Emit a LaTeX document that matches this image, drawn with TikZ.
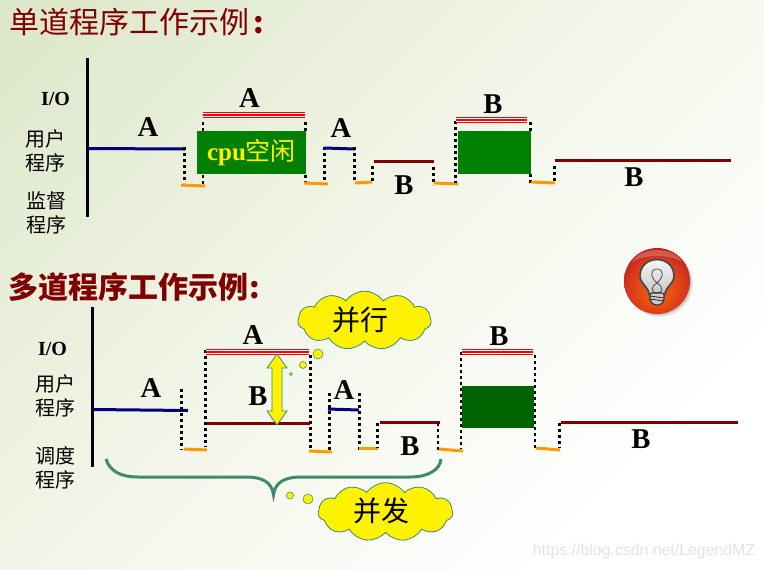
\documentclass[tikz,border=0pt]{standalone}
\usepackage{fontspec}
\setmainfont{Liberation Serif}
\newfontfamily\cjk{Noto Sans CJK SC}
\newfontfamily\wmfont{Liberation Sans}
\usetikzlibrary{shapes.symbols}
\definecolor{navyl}{HTML}{000080}
\definecolor{maroonl}{HTML}{800000}
\definecolor{orangel}{HTML}{FF9900}
\definecolor{greenb}{HTML}{008000}
\definecolor{greend}{HTML}{006400}
\definecolor{tealo}{HTML}{3F8A6C}
\definecolor{bgtop}{HTML}{DCE6C8}
\definecolor{bgmid}{HTML}{F4F7EC}
\definecolor{ballin}{HTML}{EA5212}
\definecolor{ballmid}{HTML}{D8381C}
\definecolor{ballout}{HTML}{B81C1C}
\pgfdeclareradialshading{ballsh}{\pgfpoint{0bp}{-9bp}}{color(0bp)=(ballin); color(10bp)=(ballin); color(22bp)=(ballmid); color(31bp)=(ballout); color(50bp)=(ballout)}
\pgfdeclareverticalshading{bgsh}{100bp}{color(0bp)=(white); color(33bp)=(white); color(50bp)=(bgmid); color(75bp)=(bgtop); color(100bp)=(bgtop)}
\newcommand{\fs}[1]{\fontsize{#1}{#1}\selectfont}
\newcommand{\redband}[3]{\fill[red] (#1,#3) rectangle (#2,#3+6);\fill[white] (#1,#3+1) rectangle (#2,#3+2);\fill[white] (#1,#3+4) rectangle (#2,#3+5);}
\tikzset{
  axisl/.style={line width=2.25pt,black},
  navyline/.style={line width=2.25pt,navyl},
  marline/.style={line width=2.25pt,maroonl},
  oline/.style={line width=2.25pt,orangel},
  dotl/.style={line width=2.2pt,black,dash pattern=on 2.25pt off 2.25pt},
  letter/.style={font=\bfseries\fs{21.5},inner sep=0pt},
  iolabel/.style={font=\bfseries\fs{15},inner sep=0pt},
  rowlabel/.style={font=\cjk\fs{15},inner sep=0pt,align=center},
  title/.style={font=\cjk\fs{22.5},inner sep=0pt,anchor=west,text=maroonl},
  bubble/.style={fill=yellow,draw=tealo,line width=0.4pt},
  cloudy/.style={cloud,cloud puffs=11,cloud puff arc=110,cloud ignores aspect,fill=yellow,draw=tealo,line width=0.6pt,inner sep=0pt},
  cloudtext/.style={font=\cjk\fs{21},inner sep=0pt},
}
\begin{document}
\begin{tikzpicture}[x=0.75pt,y=-0.75pt]
\useasboundingbox (0,0) rectangle (764,569);
\begin{scope}
\clip (0,0) rectangle (764,569);
\begin{scope}[transform canvas={rotate around={45:(382,284.5)}}]
\shade[shading=bgsh] (-300,-187) rectangle (1064,756);
\end{scope}
\end{scope}

% titles
\node[title] (t1) at (9,22) {单道程序工作示例\hspace{3pt}\textbf{:}};
\node[title,font=\cjk\bfseries\fs{22.5}] (t2) at (8,287) {多道程序工作示例\hspace{1pt}\textbf{:}};

% ---------- single programme ----------
\draw[axisl] (87.5,58) -- (87.5,217);
\node[iolabel] (io1) at (55.5,99) {I/O};
\node[rowlabel] (u1) at (46,151) {用户\\[3.5pt]程序};
\node[rowlabel] (s1) at (46.5,213) {监督\\[3.5pt]程序};

\draw[navyline] (88,148.5) -- (185,149);
\node[letter] (a1) at (148,127) {A};
\draw[dotl] (184.5,147) -- (184.5,183);
\draw[oline] (181,185) -- (205,186);
\draw[dotl] (203,122) -- (203,131);
\draw[dotl] (203,175) -- (203,184);
\node[fill=greenb,minimum width=81.75pt,minimum height=32.25pt,inner sep=0pt,text=yellow,font=\bfseries\fs{18.75}] (box1) at (251.5,152.5) {cpu{\cjk\mdseries 空闲}};
\redband{203}{305}{112}
\node[letter] (a2) at (249.5,98) {A};
\draw[dotl] (305.5,122) -- (305.5,131);
\draw[dotl] (305.5,175) -- (305.5,182);
\draw[oline] (304,183) -- (328,184);
\draw[dotl] (324.5,147) -- (324.5,183);
\draw[navyline] (324,148) -- (355,149);
\node[letter] (a3) at (341,128) {A};
\draw[dotl] (354.5,147) -- (354.5,183);
\draw[oline] (355,183) -- (372,182);
\draw[dotl] (372.5,166) -- (372.5,182);
\draw[marline] (374,161) -- (434,161);
\node[letter] (b1) at (404,185) {B};
\draw[dotl] (433.5,167) -- (433.5,185);
\draw[oline] (434,183) -- (458,184);
\draw[dotl] (455.5,121) -- (455.5,183);
\node[fill=greenb,minimum width=54.75pt,minimum height=32.25pt,inner sep=0pt] (box2) at (494.5,152.5) {};
\redband{456}{527}{117}
\node[letter] (b2) at (493,104) {B};
\draw[dotl] (530.5,122) -- (530.5,131);
\draw[dotl] (530.5,174) -- (530.5,184);
\draw[oline] (531,182) -- (555,183);
\draw[dotl] (554.5,166) -- (554.5,182);
\draw[marline] (555,160) -- (731,160);
\node[letter] (b3) at (634,177) {B};

% ---------- bulb ----------
\foreach \d/\o in {3/0.06,2/0.08,1/0.1}{\fill[black,opacity=\o] (657+\d,281+\d) circle (33);}
\shade[shading=ballsh] (657,281) circle (33);
\fill[white,opacity=0.22] (632,262) .. controls (640,246) and (674,246) .. (682,262) .. controls (670,254) and (644,254) .. (632,262) -- cycle;
% glass
\path[draw=gray!70!black,line width=1.4pt,top color=white,bottom color=gray!45]
  (649,294) .. controls (648,286) and (640,284) .. (640,276) .. controls (640,254) and (674,254) .. (674,276) .. controls (674,284) and (666,286) .. (665,294) -- cycle;
\draw[black!75,line width=0.5pt] (649,294) .. controls (648,286) and (640,284) .. (640,276) .. controls (640,254) and (674,254) .. (674,276) .. controls (674,284) and (666,286) .. (665,294);
% filament
\draw[gray!60!black,line width=0.6pt] (657,283) .. controls (650,277) and (650,269) .. (657,269) .. controls (664,269) and (664,277) .. (657,283) .. controls (650,287) and (651,293) .. (657,293) .. controls (663,293) and (664,287) .. (657,283);
% base
\fill[gray!40,draw=black!80,line width=0.8pt,rounded corners=1.5pt] (650,293) -- (664,293) -- (664,301) -- (660,305) -- (654,305) -- (650,301) -- cycle;
\draw[black!80,line width=0.7pt] (650,296) -- (664,298) (650,299) -- (664,301);

% ---------- multi programme ----------
\draw[axisl] (92.5,307) -- (92.5,467);
\node[iolabel] (io2) at (52.5,349) {I/O};
\node[rowlabel] (u2) at (55,396) {用户\\[3.5pt]程序};
\node[rowlabel] (s2) at (56,468) {调度\\[3.5pt]程序};

\node[letter] (a4) at (151,388) {A};
\draw[navyline] (93,409.5) -- (188,410.5);
\draw[dotl] (181.5,389) -- (181.5,450);
\draw[oline] (184,449) -- (207,450);
\draw[dotl] (205.5,350) -- (205.5,447);
\redband{206}{309}{349}
\node[letter] (a5) at (253,335) {A};
\draw[marline] (207,423.5) -- (310,423.5);
\draw[fill=yellow,draw=tealo,line width=0.6pt] (277,354) -- (287,368) -- (282,368) -- (282,411) -- (287,411) -- (277,425) -- (267,411) -- (272,411) -- (272,368) -- (267,368) -- cycle;
\node[letter] (b4) at (258,396) {B};
\draw[dotl] (310.5,355) -- (310.5,450);
\draw[oline] (309,451) -- (332,452);
\draw[bubble] (318,354) circle (5);
\draw[bubble] (303,365) circle (3.5);
\draw[bubble] (291,374) circle (1.5);
\node[cloudy,minimum width=100pt,minimum height=44pt] (c1) at (364.5,320.5) {};
\node[cloudtext] at (360,320) {并行};
\draw[dotl] (329.5,393) -- (329.5,450);
\draw[navyline] (328,409) -- (359,410);
\node[letter] (a6) at (344,390) {A};
\draw[dotl] (359.5,393) -- (359.5,450);
\draw[oline] (359,448) -- (378,448);
\draw[dotl] (377.5,423) -- (377.5,448);
\draw[marline] (380,422) -- (440,422);
\node[letter] (b5) at (410,446) {B};
\draw[dotl] (438,423) -- (438,453);
\draw[oline] (439,449) -- (463,451);
\draw[dotl] (461,352) -- (461,449);
\node[fill=greend,minimum width=54pt,minimum height=31.5pt,inner sep=0pt] (box3) at (498,407) {};
\redband{462}{533}{349}
\node[letter] (b6) at (499,336) {B};
\draw[dotl] (535,355) -- (535,450);
\draw[oline] (536,448) -- (560,450);
\draw[dotl] (559.5,423) -- (559.5,448);
\draw[marline] (561,422) -- (738,422);
\node[letter] (b7) at (641,439) {B};

% brace
\draw[tealo,line width=2.25pt] (106,459) .. controls (110,472) and (122,477) .. (138,477) -- (246,477) .. controls (262,477) and (272,482) .. (273.5,495) .. controls (275,482) and (285,477) .. (301,477) -- (410,477) .. controls (428,477) and (440,470) .. (441,459);
\draw[bubble] (290,495.5) circle (3.5);
\draw[bubble] (308,499) circle (5);
\node[cloudy,minimum width=101pt,minimum height=44pt] (c2) at (385.5,512) {};
\node[cloudtext] at (381,511) {并发};

% watermark
\node[font=\wmfont\fs{11.9},text=gray!22,inner sep=0pt] (wm) at (644,551) {https://blog.csdn.net/LegendMZ};
\end{tikzpicture}
\end{document}
